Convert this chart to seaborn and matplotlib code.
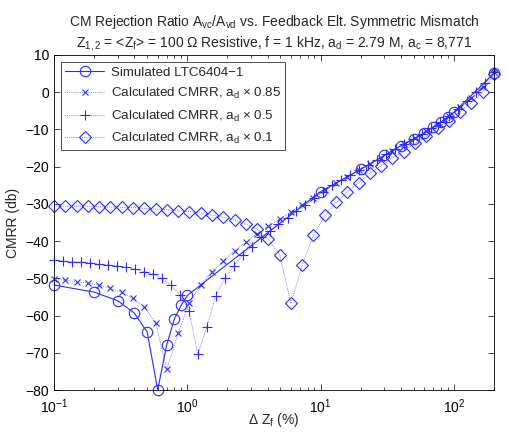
import numpy as np
import pandas as pd
import seaborn as sns
import matplotlib
matplotlib.use('Agg')
import matplotlib.pyplot as plt
from matplotlib.ticker import LogLocator, LogFormatterSciNotation, MultipleLocator

# simulated LTC6404-1 points
sim_x = [0.1, 0.2, 0.3, 0.4, 0.5, 0.6, 0.7, 0.8, 0.9, 1,
         10, 20, 30, 40, 50, 60, 70, 80, 90, 100, 200]
sim_y = [-51.8, -53.7, -56.0, -59.3, -64.4, -80.0, -67.9, -60.9, -57.2, -54.6,
         -26.7, -20.7, -17.0, -14.4, -12.6, -10.9, -9.3, -8.0, -6.7, -5.4, 5.1]

calc_x = [0.100, 0.1215, 0.1477, 0.1794, 0.2181, 0.2650, 0.3220, 0.3913, 0.4755, 0.5778,
          0.7022, 0.8533, 1.037, 1.260, 1.531, 1.860, 2.261, 2.747, 3.338, 4.057,
          4.930, 5.990, 7.279, 8.846, 10.75, 13.06, 15.87, 19.29, 23.44, 28.48,
          34.61, 42.06, 51.11, 62.11, 75.47, 91.71, 111.4, 135.4, 164.6, 200.0]
cmrr_085 = [-50.3, -50.5, -50.9, -51.3, -51.8, -52.7, -53.8, -55.4, -57.6, -61.9,
            -74.4, -64.8, -56.5, -51.8, -48.2, -45.3, -42.6, -40.3, -38.0, -36.0,
            -34.1, -32.1, -30.2, -28.4, -26.2, -24.4, -22.7, -21.0, -19.3, -17.6,
            -15.8, -14.0, -12.3, -10.5, -8.6, -6.5, -4.1, -1.5, 1.5, 5.3]
cmrr_01 = [-30.6, -30.6, -30.6, -30.6, -30.8, -30.8, -30.9, -31.0, -31.2, -31.4,
           -31.6, -31.8, -32.1, -32.4, -33.0, -33.6, -34.3, -35.4, -36.8, -39.5,
           -43.7, -56.7, -46.4, -38.4, -33.1, -29.6, -26.8, -24.3, -21.8, -19.8,
           -17.6, -16.0, -13.7, -11.8, -9.5, -7.6, -5.2, -2.8, 0.1, 5.0]

# the a_d x 0.5 markers sit on a denser grid (50 pts)
half_x = [0.1000, 0.1168, 0.1364, 0.1593, 0.1861, 0.2173, 0.2538, 0.2965, 0.3463, 0.4044,
          0.4723, 0.5517, 0.6443, 0.7525, 0.8789, 1.027, 1.199, 1.400, 1.635, 1.910,
          2.231, 2.606, 3.043, 3.554, 4.151, 4.83, 5.65, 6.59, 7.70, 8.99,
          10.50, 12.26, 14.31, 16.71, 19.52, 22.80, 26.62, 31.09, 36.31, 42.40,
          49.52, 57.82, 67.52, 78.85, 92.07, 107.5, 125.6, 146.6, 171.2, 200.0]
cmrr_05 = [-45.1, -45.3, -45.5, -45.7, -45.8, -46.2, -46.4, -46.6, -47.0, -47.5,
           -48.2, -48.8, -50.0, -51.8, -54.5, -58.7, -70.4, -63.1, -54.7, -50.0,
           -46.6, -43.6, -41.5, -39.0, -37.3, -35.4, -33.7, -32.0, -30.3, -28.5,
           -26.7, -25.0, -23.6, -22.3, -20.9, -19.5, -18.1, -16.7, -15.3, -13.9,
           -12.7, -11.3, -9.7, -8.1, -6.4, -4.5, -2.4, 0.0, 2.6, 5.4]

sns.set_style('ticks')
plt.rcParams['font.family'] = ['Liberation Sans', 'DejaVu Sans']
plt.rcParams['mathtext.fontset'] = 'custom'
plt.rcParams['mathtext.rm'] = 'Liberation Sans'
plt.rcParams['mathtext.it'] = 'Liberation Sans'
plt.rcParams['font.size'] = 10

fig = plt.figure(figsize=(5.07, 4.32), dpi=100)
ax = fig.add_axes([0.1065, 0.0972, 0.8679, 0.7755])

blue = '#2a2aff'
sns.lineplot(x=sim_x, y=sim_y, ax=ax, color=blue, linewidth=0.8, marker='o',
             markersize=7.5, markerfacecolor='none', markeredgecolor=blue,
             markeredgewidth=0.8, clip_on=False, label='Simulated LTC6404\u22121')
sns.lineplot(x=calc_x, y=cmrr_085, ax=ax, color=blue, linewidth=0.5, linestyle=':',
             marker='x', markersize=5, markeredgecolor=blue, markeredgewidth=0.8,
             clip_on=False, label=r'Calculated CMRR, a$_{\rm d}$ $\times$ 0.85')
sns.lineplot(x=half_x, y=cmrr_05, ax=ax, color=blue, linewidth=0.5, linestyle=':',
             marker='+', markersize=6.5, markeredgecolor=blue, markeredgewidth=0.8,
             clip_on=False, label=r'Calculated CMRR, a$_{\rm d}$ $\times$ 0.5')
sns.lineplot(x=calc_x, y=cmrr_01, ax=ax, color=blue, linewidth=0.5, linestyle=':',
             marker='D', markersize=6.3, markerfacecolor='none', markeredgecolor=blue,
             markeredgewidth=0.8, clip_on=False, label=r'Calculated CMRR, a$_{\rm d}$ $\times$ 0.1')
# force every line and marker edge to blue
for ln in ax.lines:
    ln.set_color(blue)
    ln.set_markeredgecolor(blue)

ax.set_xscale('log')
ax.set_xlim(0.1, 200)
ax.set_ylim(-80, 10)
ax.yaxis.set_major_locator(MultipleLocator(10))
ax.xaxis.set_major_locator(LogLocator(base=10))
ax.xaxis.set_major_formatter(LogFormatterSciNotation())
ax.xaxis.set_minor_locator(LogLocator(base=10, subs=np.arange(2, 10)))
ax.tick_params(which='both', direction='in', top=True, right=True, width=0.5,
               colors='black', labelsize=10)
ax.tick_params(which='major', length=4)
ax.tick_params(which='minor', length=2)
ax.tick_params(axis='x', which='major', pad=5)
for s in ax.spines.values():
    s.set_linewidth(0.6)
    s.set_color('black')

ax.set_xlabel(r'$\Delta$ Z$_{\rm f}$ (%)', fontsize=10, labelpad=-3)
ax.set_ylabel('CMRR (db)', fontsize=10, labelpad=4)
ax.set_title('CM Rejection Ratio A$_{\\rm vc}$/A$_{\\rm vd}$ vs. Feedback Elt. Symmetric Mismatch\n'
             'Z$_{\\rm 1,2}$ = <Z$_{\\rm f}$> = 100 \u03a9 Resistive, f = 1 kHz, '
             'a$_{\\rm d}$ = 2.79 M, a$_{\\rm c}$ = 8,771', fontsize=10, pad=6)

leg = ax.legend(loc='upper left', fontsize=9.6, frameon=True, fancybox=False,
                edgecolor='black', borderaxespad=0.55, handlelength=2.9,
                labelspacing=0.55, borderpad=0.3, handletextpad=0.5)
leg.get_frame().set_linewidth(0.6)
for h in leg.get_lines():
    h.set_color(blue)
    h.set_markeredgecolor(blue)

fig.savefig('out.png', dpi=100)
